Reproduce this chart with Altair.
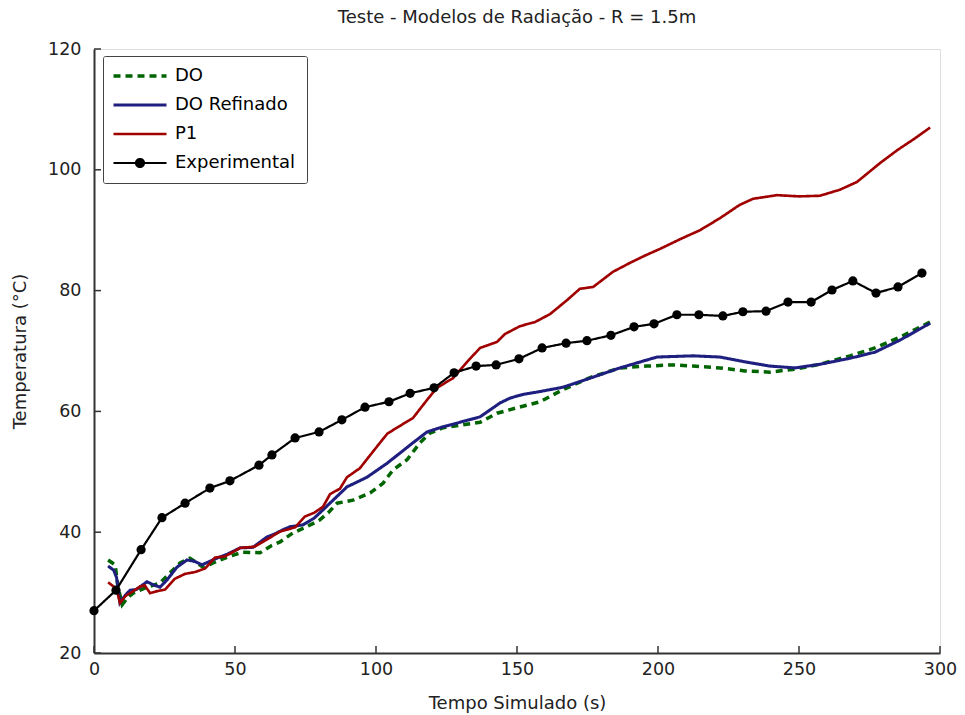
import altair as alt
import pandas as pd

series_names = ["DO", "DO Refinado", "P1", "Experimental"]
series_colors = ["#006400", "#1f1f80", "#a00000", "#000000"]

do_t = [5, 7.5, 8.5, 10, 12, 13.9, 18.8, 23.4, 27, 30.5, 34, 38.7, 44.7, 48, 52.8, 58.9, 63, 66, 70.6, 75,
        80, 83, 86.2, 91.8, 97.9, 102.5, 106, 111, 115.6, 119.1, 123.8, 129.8, 136.9, 142.9, 150, 158.2,
        166.3, 175.9, 186.5, 196, 205.3, 212.4, 222, 230.9, 239.7, 248.6, 257.4, 268.1, 276.9, 285.8, 296.5]
do_y = [35.4, 34.6, 31.0, 28.0, 29.2, 29.9, 30.9, 31.6, 33.3, 34.9, 35.7, 34.2, 35.4, 36.0, 36.7, 36.6, 37.8,
        38.4, 39.9, 40.8, 42.0, 43.2, 44.8, 45.3, 46.5, 48.1, 50.3, 52.0, 54.8, 56.4, 57.3, 57.7, 58.2, 59.7,
        60.6, 61.6, 63.6, 65.6, 67.2, 67.5, 67.7, 67.5, 67.2, 66.7, 66.5, 67.0, 67.8, 69.2, 70.5, 72.3, 74.8]

dor_t = [5, 7, 8, 9.2, 11, 12.8, 15, 18.8, 21, 23.4, 25.9, 29.4, 33, 35.5, 38.3, 43.6, 47, 51.8, 56.4, 61.3,
         64, 67, 69.5, 74, 78, 81.2, 85, 89.7, 96.8, 103.9, 108.5, 113.1, 118.1, 122.7, 129.8, 136.9, 144,
         147.5, 152, 157.1, 166.3, 175.9, 186.5, 199.6, 212.4, 222, 230.9, 239.7, 248.6, 257.4, 268.1,
         276.9, 285.8, 296.5]
dor_y = [34.4, 33.7, 32.5, 28.3, 29.5, 30.4, 30.5, 31.8, 31.3, 30.9, 32.1, 34.2, 35.4, 35.2, 34.6, 35.7, 36.3,
         37.4, 37.5, 39.2, 39.7, 40.4, 40.9, 41.2, 42.3, 43.7, 45.4, 47.5, 49.1, 51.4, 53.1, 54.8, 56.6, 57.3,
         58.2, 59.1, 61.4, 62.2, 62.8, 63.2, 64.0, 65.5, 67.2, 69.0, 69.2, 69.0, 68.2, 67.5, 67.2, 67.8, 68.8,
         69.8, 71.8, 74.6]

p1_t = [5, 6.4, 8, 9.2, 11.3, 13.5, 16.3, 18, 19.9, 22, 25.2, 28.7, 32.3, 35.8, 39.4, 42.9, 46.5, 51.8, 57,
        60.6, 66, 71.3, 74.8, 78, 81.2, 83.7, 87.2, 89.7, 94.3, 97.5, 101.4, 104, 107.4, 113.1, 118.1, 121.6,
        127.3, 132.3, 136.9, 142.9, 145.7, 151, 156.4, 161.7, 167.7, 172.3, 177, 184, 190.1, 195.4, 200.7,
        207.8, 214.9, 222, 229, 233.7, 242.2, 250, 257.4, 264.5, 270.6, 278.7, 285, 291.1, 296.5]
p1_y = [31.7, 31.2, 30.6, 28.3, 29.5, 30.1, 31.0, 31.2, 29.9, 30.2, 30.5, 32.3, 33.1, 33.4, 34.0, 35.8, 36.0,
        37.4, 37.6, 38.6, 40.1, 40.8, 42.6, 43.2, 44.2, 46.3, 47.2, 49.1, 50.6, 52.5, 54.8, 56.3, 57.3, 58.9,
        61.9, 63.9, 65.5, 68.2, 70.5, 71.5, 72.8, 74.1, 74.8, 76.1, 78.4, 80.3, 80.6, 83.1, 84.6, 85.8, 86.9,
        88.5, 90.0, 92.0, 94.2, 95.2, 95.8, 95.6, 95.7, 96.7, 98.0, 101.1, 103.3, 105.2, 107.0]

exp_t = [0, 7.8, 16.7, 24.1, 32.3, 41.1, 48.2, 58.5, 63.1, 71.3, 79.8, 87.9, 96.1, 104.6, 112.1, 120.6, 127.7,
         135.5, 142.6, 150.7, 158.9, 167.4, 174.8, 183.3, 191.5, 198.6, 206.7, 214.5, 223.0, 230.1, 238.3,
         246.1, 254.3, 261.7, 269.1, 277.3, 285.1, 293.6]
exp_y = [27.0, 30.4, 37.1, 42.4, 44.8, 47.3, 48.5, 51.1, 52.8, 55.6, 56.6, 58.6, 60.7, 61.6, 63.0, 63.9, 66.4,
         67.5, 67.7, 68.7, 70.5, 71.3, 71.7, 72.6, 74.0, 74.5, 76.0, 76.0, 75.8, 76.5, 76.6, 78.1, 78.1, 80.1,
         81.6, 79.6, 80.6, 82.9]

x_ticks = [0, 50, 100, 150, 200, 250, 300]
y_ticks = [20, 40, 60, 80, 100, 120]

frames = []
for name, ts, ys in [("DO", do_t, do_y), ("DO Refinado", dor_t, dor_y), ("P1", p1_t, p1_y),
                     ("Experimental", exp_t, exp_y)]:
    frames.append(pd.DataFrame({"t": ts, "T": ys, "serie": name, "ordem": range(len(ts))}))
df = pd.concat(frames, ignore_index=True)

W, H = 846, 604
FONT = "DejaVu Sans"

xscale = alt.Scale(domain=[0, 300], nice=False, zero=False)
yscale = alt.Scale(domain=[20, 120], nice=False, zero=False)

line_path = "M-5.3,0H5.3"
dot_path = "M-5.3,0H5.3M0.8,0A0.8,0.8,0,1,1,-0.8,0A0.8,0.8,0,1,1,0.8,0"

legend = alt.Legend(
    title=None, orient="none", legendX=9, legendY=7,
    labelFont=FONT, labelFontSize=18, labelColor="#000",
    symbolSize=100, symbolOffset=17, labelOffset=26,
    rowPadding=11, padding=11,
    strokeColor="#444", fillColor="white", cornerRadius=2,
    symbolType={"expr": f"datum.value === 'Experimental' ? '{dot_path}' : '{line_path}'"},
    symbolFillColor={"expr": "datum.value === 'Experimental' ? 'black' : 'transparent'"},
)

base = alt.Chart(df)

lines = base.mark_line(interpolate="linear").encode(
    x=alt.X("t:Q", scale=xscale, title="Tempo Simulado (s)",
            axis=alt.Axis(values=x_ticks, format="d", tickSize=0, grid=False, domainColor="#333",
                          domainWidth=2, labelFont=FONT, labelFontSize=17.5, labelColor="#222",
                          labelPadding=7, labelFlush=False, titleFont=FONT, titleFontSize=18,
                          titleFontWeight="normal", titleColor="#222", titlePadding=17)),
    y=alt.Y("T:Q", scale=yscale, title="Temperatura (°C)",
            axis=alt.Axis(values=y_ticks, tickSize=0, grid=False, domainColor="#333", domainWidth=2,
                          labelFont=FONT, labelFontSize=17.5, labelColor="#222", labelPadding=13,
                          labelFlush=False, titleFont=FONT, titleFontSize=18, titleFontWeight="normal",
                          titleColor="#222", titlePadding=18)),
    color=alt.Color("serie:N", scale=alt.Scale(domain=series_names, range=series_colors), legend=legend),
    strokeDash=alt.StrokeDash("serie:N", scale=alt.Scale(domain=series_names,
                                                          range=[[7, 5], [1, 0], [1, 0], [1, 0]]),
                              legend=legend),
    strokeWidth=alt.StrokeWidth("serie:N", scale=alt.Scale(domain=series_names, range=[3.5, 2.2, 2.2, 2.5]),
                                legend=legend),
    order="ordem:Q",
)

points = base.transform_filter(alt.datum.serie == "Experimental").mark_circle(
    size=85, color="black", opacity=1).encode(
    x=alt.X("t:Q", scale=xscale), y=alt.Y("T:Q", scale=yscale))

xt = pd.DataFrame({"v": x_ticks})
yt = pd.DataFrame({"v": y_ticks})
xtick_marks = alt.Chart(xt).mark_rule(color="#333", strokeWidth=1.5).encode(
    x=alt.X("v:Q", scale=xscale), y=alt.value(H), y2=alt.value(H - 7))
ytick_marks = alt.Chart(yt).mark_rule(color="#333", strokeWidth=1.5).encode(
    y=alt.Y("v:Q", scale=yscale), x=alt.value(0), x2=alt.value(7))

chart = alt.layer(lines, points, xtick_marks, ytick_marks).properties(
    width=W, height=H,
    title=alt.Title("Teste - Modelos de Radiação - R = 1.5m", font=FONT, fontSize=18,
                    fontWeight="normal", color="#222", offset=13),
    autosize=alt.AutoSizeParams(type="none"),
    padding={"left": 94, "top": 49, "right": 25, "bottom": 62},
).configure_view(stroke=None).configure(background="white")

chart.save("out.html", embed_options={"renderer": "svg", "actions": False})
